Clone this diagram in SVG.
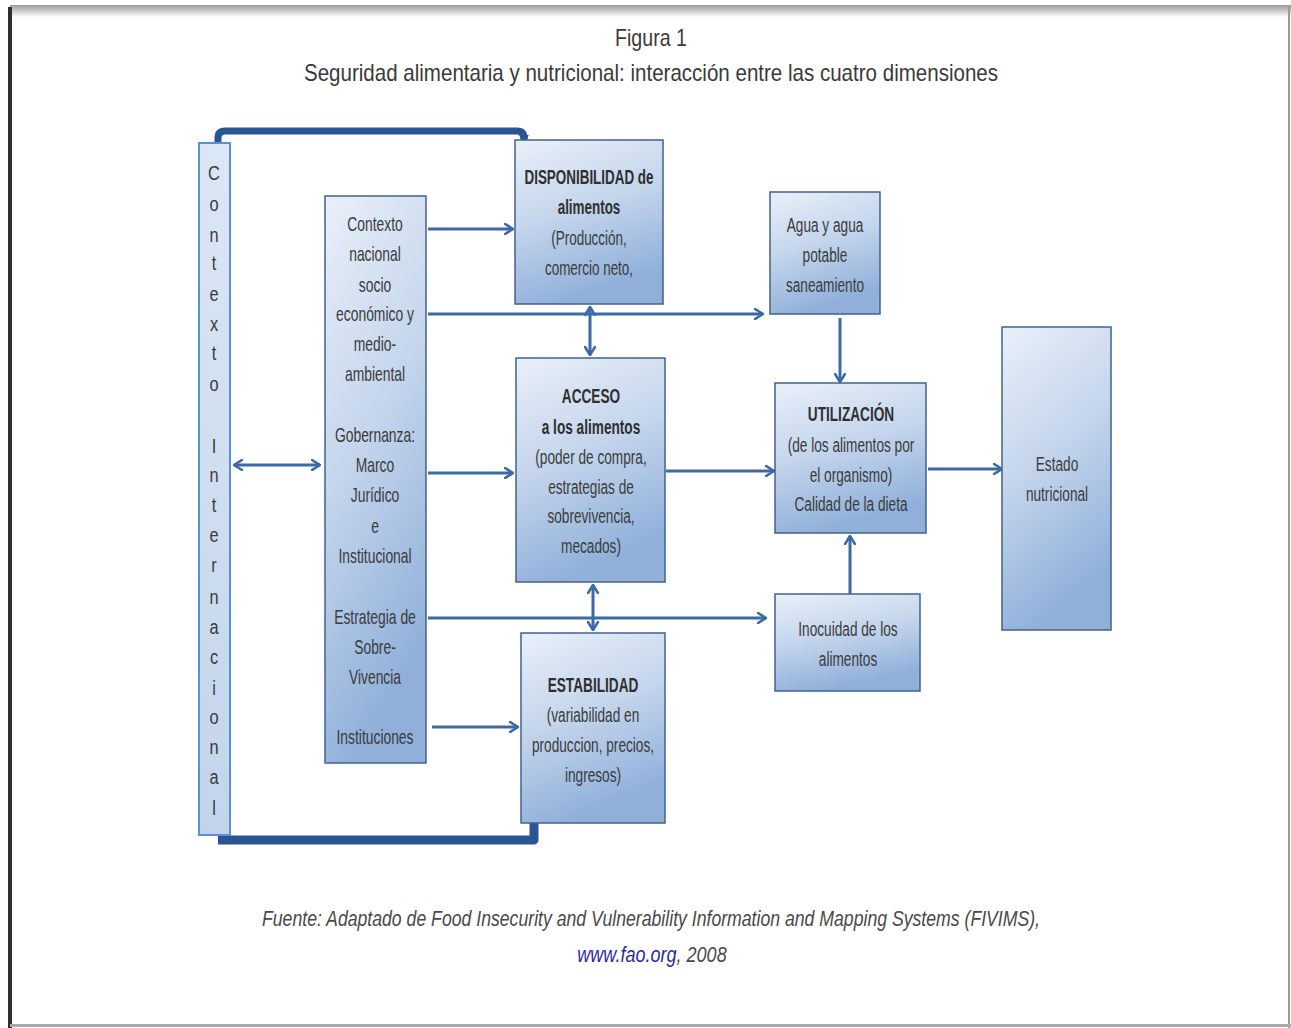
<svg xmlns="http://www.w3.org/2000/svg" width="1291" height="1028" viewBox="0 0 1291 1028">
<style>
  .t{font-family:"Liberation Sans",Arial,sans-serif;font-size:21px;fill:#3b3b3b;text-anchor:middle}
  .b{font-weight:bold;fill:#2f2f2f}
  .box{fill:url(#g);stroke:#41628e;stroke-width:1.5}
  .c{fill:none;stroke:#3b6aa6;stroke-width:3}
  .thick{fill:none;stroke:#2a5592;stroke-linejoin:round}
  .title{font-family:"Liberation Sans",Arial,sans-serif;font-size:24px;fill:#3a3a3a;text-anchor:middle}
  .foot{font-family:"Liberation Sans",Arial,sans-serif;font-size:22px;font-style:italic;fill:#4a4a4a;text-anchor:middle}
</style>
<defs>
  <linearGradient id="g" x1="0" y1="0" x2="0.3" y2="1">
    <stop offset="0" stop-color="#e9f0f9"/>
    <stop offset="0.5" stop-color="#c4d5ec"/>
    <stop offset="1" stop-color="#90b0da"/>
  </linearGradient>
  <linearGradient id="gv" x1="0" y1="0" x2="0" y2="1">
    <stop offset="0" stop-color="#dce7f5"/>
    <stop offset="1" stop-color="#c2d4ec"/>
  </linearGradient>
  <linearGradient id="frameTop" x1="0" y1="0" x2="0" y2="1">
    <stop offset="0" stop-color="#9a9a9a"/>
    <stop offset="1" stop-color="#ffffff"/>
  </linearGradient>
  <marker id="a" viewBox="0 0 10 12" refX="9" refY="6" markerWidth="10" markerHeight="12" markerUnits="userSpaceOnUse" orient="auto-start-reverse">
    <path d="M1,1 L9,6 L1,11" fill="none" stroke="#3b6aa6" stroke-width="2.6" stroke-linecap="round" stroke-linejoin="round"/>
  </marker>
  <marker id="ta" viewBox="0 0 10 10" refX="5" refY="5" markerWidth="12" markerHeight="12" markerUnits="userSpaceOnUse" orient="auto">
    <path d="M0,1 L10,5 L0,9 Z" fill="#2a5592"/>
  </marker>
</defs>

<rect x="0" y="0" width="1291" height="1028" fill="#ffffff"/>
<g id="frame">
  <rect x="10" y="5" width="1281" height="12" fill="url(#frameTop)"/>
  <rect x="8" y="7" width="4" height="1021" fill="#2e2e2e"/>
  <rect x="1288" y="7" width="2" height="1021" fill="#9a9a9a"/>
  <rect x="10" y="1024" width="1281" height="3" fill="#a8aab0"/>
</g>

<g id="titles">
  <text class="title" x="651" y="46" textLength="72" lengthAdjust="spacingAndGlyphs">Figura 1</text>
  <text class="title" x="651" y="81" textLength="694" lengthAdjust="spacingAndGlyphs">Seguridad alimentaria y nutricional: interacción entre las cuatro dimensiones</text>
</g>

<g id="connectors">
  <path class="thick" d="M218,152 V138 Q218,131 225,131 H517 Q524,131 524,138 V141" stroke-width="7" marker-end="url(#ta)"/>
  <path class="thick" d="M218,840 H534 V818" stroke-width="9" marker-end="url(#ta)"/>
  <line class="c" x1="234" y1="465" x2="320" y2="465" marker-start="url(#a)" marker-end="url(#a)"/>
  <line class="c" x1="428" y1="229" x2="513" y2="229" marker-end="url(#a)"/>
  <line class="c" x1="428" y1="314" x2="763" y2="314" marker-end="url(#a)"/>
  <line class="c" x1="428" y1="473" x2="513" y2="473" marker-end="url(#a)"/>
  <line class="c" x1="428" y1="618" x2="766" y2="618" marker-end="url(#a)"/>
  <line class="c" x1="432" y1="727" x2="518" y2="727" marker-end="url(#a)"/>
  <line class="c" x1="590" y1="307" x2="590" y2="355" marker-start="url(#a)" marker-end="url(#a)"/>
  <line class="c" x1="593" y1="585" x2="593" y2="630" marker-start="url(#a)" marker-end="url(#a)"/>
  <line class="c" x1="666" y1="471" x2="774" y2="471" marker-end="url(#a)"/>
  <line class="c" x1="840" y1="318" x2="840" y2="382" marker-end="url(#a)"/>
  <line class="c" x1="850" y1="594" x2="850" y2="536" marker-end="url(#a)"/>
  <line class="c" x1="928" y1="469" x2="1002" y2="469" marker-end="url(#a)"/>
</g>

<g id="contexto-internacional">
  <rect x="199" y="143" width="31" height="692" fill="url(#gv)" stroke="#5b90d2" stroke-width="2"/>
  <g class="t" transform="translate(214,0) scale(0.78,1)">
    <text x="0" y="180">C</text><text x="0" y="211">o</text><text x="0" y="242">n</text>
    <text x="0" y="270">t</text><text x="0" y="301">e</text><text x="0" y="331">x</text>
    <text x="0" y="360">t</text><text x="0" y="391">o</text>
    <text x="0" y="453">I</text><text x="0" y="482">n</text><text x="0" y="512">t</text>
    <text x="0" y="542">e</text><text x="0" y="572">r</text><text x="0" y="604">n</text>
    <text x="0" y="634">a</text><text x="0" y="664">c</text><text x="0" y="695">i</text>
    <text x="0" y="724">o</text><text x="0" y="754">n</text><text x="0" y="784">a</text>
    <text x="0" y="815">l</text>
  </g>
</g>

<g id="factores">
  <rect class="box" x="325" y="196" width="101" height="567"/>
  <g transform="translate(375,0) scale(0.66,1)">
    <text class="t" x="0" y="231">Contexto</text>
    <text class="t" x="0" y="261">nacional</text>
    <text class="t" x="0" y="292">socio</text>
    <text class="t" x="0" y="321">económico y</text>
    <text class="t" x="0" y="351">medio-</text>
    <text class="t" x="0" y="381">ambiental</text>
    <text class="t" x="0" y="442">Gobernanza:</text>
    <text class="t" x="0" y="472">Marco</text>
    <text class="t" x="0" y="502">Jurídico</text>
    <text class="t" x="0" y="533">e</text>
    <text class="t" x="0" y="563">Institucional</text>
    <text class="t" x="0" y="624">Estrategia de</text>
    <text class="t" x="0" y="654">Sobre-</text>
    <text class="t" x="0" y="684">Vivencia</text>
    <text class="t" x="0" y="744">Instituciones</text>
  </g>
</g>

<g id="disponibilidad">
  <rect class="box" x="515" y="140" width="148" height="164"/>
  <g transform="translate(589,0) scale(0.64,1)">
    <text class="t b" x="0" y="184">DISPONIBILIDAD de</text>
    <text class="t b" x="0" y="214">alimentos</text>
    <text class="t" x="0" y="245">(Producción,</text>
    <text class="t" x="0" y="275">comercio neto,</text>
  </g>
</g>

<g id="acceso">
  <rect class="box" x="516" y="358" width="149" height="224"/>
  <g transform="translate(591,0) scale(0.65,1)">
    <text class="t b" x="0" y="403">ACCESO</text>
    <text class="t b" x="0" y="434">a los alimentos</text>
    <text class="t" x="0" y="464">(poder de compra,</text>
    <text class="t" x="0" y="494">estrategias de</text>
    <text class="t" x="0" y="523">sobrevivencia,</text>
    <text class="t" x="0" y="553">mecados)</text>
  </g>
</g>

<g id="estabilidad">
  <rect class="box" x="521" y="633" width="144" height="190"/>
  <g transform="translate(593,0) scale(0.65,1)">
    <text class="t b" x="0" y="692">ESTABILIDAD</text>
    <text class="t" x="0" y="722">(variabilidad en</text>
    <text class="t" x="0" y="752">produccion, precios,</text>
    <text class="t" x="0" y="782">ingresos)</text>
  </g>
</g>

<g id="agua">
  <rect class="box" x="770" y="192" width="110" height="122"/>
  <g transform="translate(825,0) scale(0.65,1)">
    <text class="t" x="0" y="232">Agua y agua</text>
    <text class="t" x="0" y="262">potable</text>
    <text class="t" x="0" y="292">saneamiento</text>
  </g>
</g>

<g id="utilizacion">
  <rect class="box" x="775" y="383" width="151" height="150"/>
  <g transform="translate(851,0) scale(0.65,1)">
    <text class="t b" x="0" y="421">UTILIZACIÓN</text>
    <text class="t" x="0" y="452">(de los alimentos por</text>
    <text class="t" x="0" y="482">el organismo)</text>
    <text class="t" x="0" y="511">Calidad de la dieta</text>
  </g>
</g>

<g id="inocuidad">
  <rect class="box" x="775" y="594" width="145" height="97"/>
  <g transform="translate(848,0) scale(0.65,1)">
    <text class="t" x="0" y="636">Inocuidad de los</text>
    <text class="t" x="0" y="666">alimentos</text>
  </g>
</g>

<g id="estado-nutricional">
  <rect class="box" x="1002" y="327" width="109" height="303"/>
  <g transform="translate(1057,0) scale(0.65,1)">
    <text class="t" x="0" y="471">Estado</text>
    <text class="t" x="0" y="501">nutricional</text>
  </g>
</g>

<g id="fuente">
  <text class="foot" x="651" y="926" textLength="778" lengthAdjust="spacingAndGlyphs">Fuente: Adaptado de Food Insecurity and Vulnerability Information and Mapping Systems (FIVIMS),</text>
  <text class="foot" transform="translate(652,962) scale(0.82,1)" x="0" y="0"><tspan fill="#2b2ba6">www.fao.org</tspan>, 2008</text>
</g>
</svg>
